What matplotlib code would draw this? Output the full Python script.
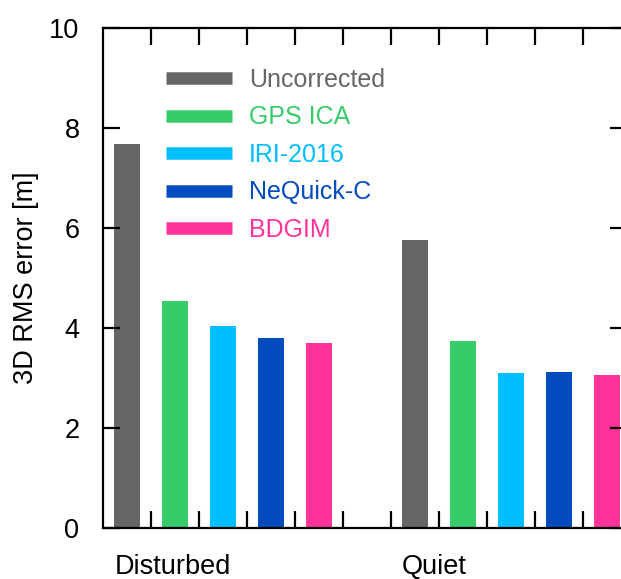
import matplotlib
matplotlib.use("Agg")
import matplotlib.pyplot as plt
from matplotlib.lines import Line2D
import numpy as np

plt.rcParams['font.family'] = ['Liberation Sans', 'DejaVu Sans']

conditions = ["Disturbed", "Quiet"]
models = ["Uncorrected", "GPS ICA", "IRI-2016", "NeQuick-C", "BDGIM"]
colors = ["#666666", "#36CC6A", "#00BFFF", "#034BBE", "#FF3399"]

disturbed_rms = [7.68, 4.54, 4.04, 3.81, 3.70]
quiet_rms = [5.77, 3.75, 3.11, 3.12, 3.07]
values = [disturbed_rms, quiet_rms]

W, H = 621, 579
fig = plt.figure(figsize=(W / 100, H / 100), dpi=100)
left_px, right_px, top_px, bot_px = 103, 627, 28, 528
ax = fig.add_axes([left_px / W, (H - bot_px) / H,
                   (right_px - left_px) / W, (bot_px - top_px) / H])

slot = len(models) + 1  # one empty slot between groups
for g, vals in enumerate(values):
    for i, v in enumerate(vals):
        ax.bar(g * slot + i, v, width=0.55, color=colors[i], edgecolor='none')

n_slots = slot * len(conditions) - 1
ax.set_xlim(-0.5, n_slots - 0.58)
ax.set_ylim(0, 10)

ax.set_yticks(np.arange(0, 11, 2))
ax.set_yticklabels([str(t) for t in range(0, 11, 2)])
ax.set_xticks(np.arange(0.5, n_slots - 0.5, 1.0))
ax.set_xticklabels([])
ax.tick_params(axis='both', direction='in', length=12, width=1.6,
               top=True, right=True, labelsize=19.5, pad=17)
for s in ax.spines.values():
    s.set_linewidth(1.6)

ax.set_ylabel("3D RMS error [m]", fontsize=19.5, labelpad=7)

# group labels below the axis
label_x = [0.96, 6.4]
for name, x in zip(conditions, label_x):
    ax.text(x, -0.78, name, ha='center', va='center', fontsize=19.5,
            transform=ax.transData)

handles = [Line2D([0], [0], color=c, lw=9, solid_capstyle='butt') for c in colors]
leg = ax.legend(handles, models, loc='upper left', bbox_to_anchor=(0.101, 0.94),
                frameon=False, fontsize=18, handlelength=2.64,
                handletextpad=0.68, labelspacing=0.54, borderaxespad=0)
for txt, c in zip(leg.get_texts(), colors):
    txt.set_color(c)

fig.savefig("out.png", dpi=100)
